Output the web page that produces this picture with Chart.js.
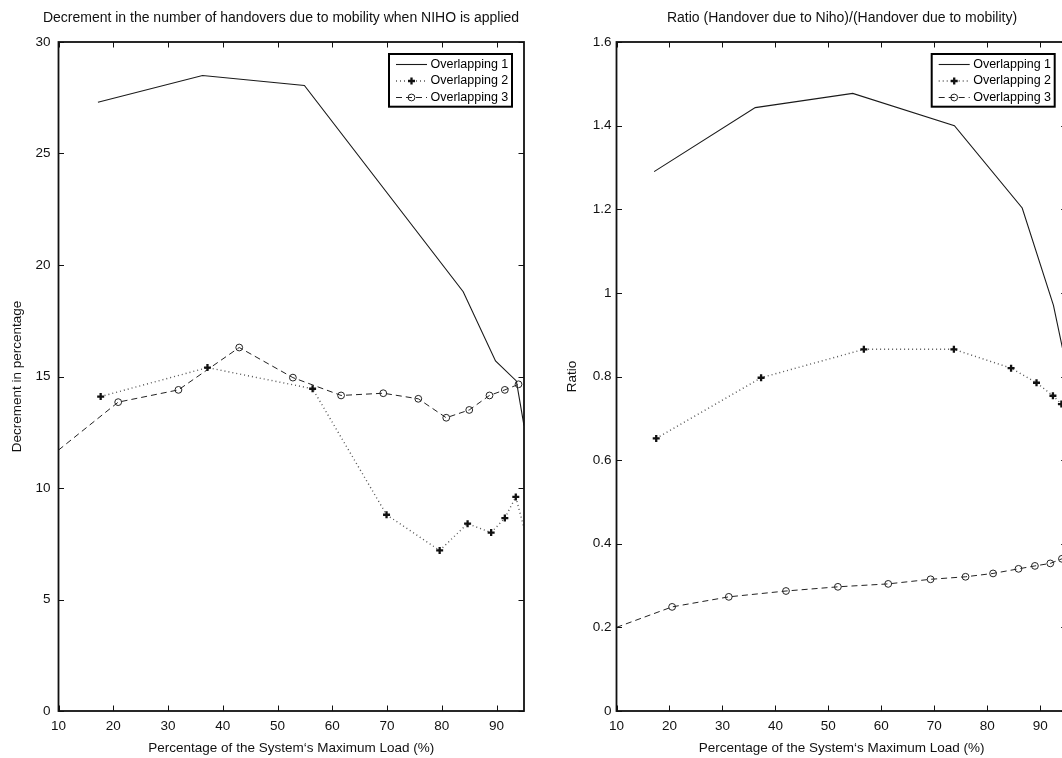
<!DOCTYPE html>
<html>
<head>
<meta charset="utf-8">
<title>Handover decrement and ratio vs load</title>
<script src="https://cdn.jsdelivr.net/npm/chart.js@4.4.0/dist/chart.umd.min.js"></script>
<style>
  html, body { margin: 0; padding: 0; background: #fff; overflow: hidden; width: 1062px; height: 758px; }
  canvas { position: absolute; top: 0; }
  #leftChart { left: 0; }
  #rightChart { left: 540px; }
</style>
</head>
<body>
<canvas id="leftChart" width="562" height="758"></canvas>
<canvas id="rightChart" width="604" height="758"></canvas>
<script>
// Series names (legend)
const seriesNames = ['Overlapping 1', 'Overlapping 2', 'Overlapping 3'];

// Left panel: decrement in handovers (%) vs load (%)
const leftLoad1 = [17.2, 36.3, 54.9, 83.9, 89.8, 93.6, 95];
const leftDec1  = [27.3, 28.5, 28.05, 18.8, 15.7, 14.8, 12.8];
const leftLoad2 = [17.7, 37.2, 56.4, 69.9, 79.6, 84.7, 89.0, 91.5, 93.5, 95];
const leftDec2  = [14.1, 15.4, 14.45, 8.8, 7.2, 8.4, 8.0, 8.65, 9.6, 8.2];
const leftLoad3 = [10, 20.9, 31.9, 43.0, 52.8, 61.6, 69.3, 75.7, 80.8, 85.0, 88.7, 91.5, 94.0];
const leftDec3  = [11.7, 13.85, 14.4, 16.3, 14.95, 14.15, 14.25, 14.0, 13.15, 13.5, 14.15, 14.4, 14.65];

// Right panel: ratio (handover due to NIHO / due to mobility) vs load (%)
const rightLoad1  = [17.1, 36.2, 54.6, 73.8, 86.6, 92.5, 95];
const rightRatio1 = [1.29, 1.443, 1.477, 1.40, 1.203, 0.97, 0.82];
const rightLoad2  = [17.5, 37.3, 56.7, 73.7, 84.5, 89.3, 92.4, 94.0];
const rightRatio2 = [0.652, 0.797, 0.865, 0.865, 0.82, 0.785, 0.754, 0.734];
const rightLoad3  = [10, 20.5, 31.2, 42.0, 51.8, 61.3, 69.3, 75.9, 81.1, 85.9, 89.0, 91.9, 94.1];
const rightRatio3 = [0.2, 0.249, 0.273, 0.287, 0.297, 0.304, 0.315, 0.321, 0.329, 0.340, 0.347, 0.353, 0.364];

// Tick labels
const loadTicks = [10, 20, 30, 40, 50, 60, 70, 80, 90];
const leftYTicks = [0, 5, 10, 15, 20, 25, 30];
const rightYTicks = [0, 0.2, 0.4, 0.6, 0.8, 1, 1.2, 1.4, 1.6];

const X_MIN = 10, X_MAX = 95;
const INK = '#111';

Chart.defaults.font.family = '"Liberation Sans", Arial, Helvetica, sans-serif';
Chart.defaults.color = INK;

// line / marker look for each series (matlab style)
const SERIES_STYLES = [
    { borderColor: '#1a1a1a', borderWidth: 1.1, markerRadius: 0 },
    { borderColor: '#555', borderWidth: 1.4, borderDash: [1, 3], pointStyle: 'cross',
      markerRadius: 3.5, pointBorderWidth: 2.3, pointBorderColor: '#111' },
    { borderColor: '#222', borderWidth: 1, borderDash: [6, 4], pointStyle: 'circle',
      markerRadius: 3.4, pointBorderWidth: 1, pointBorderColor: '#222',
      pointBackgroundColor: 'rgba(255,255,255,0)' }
];

function makeDatasets(xsList, ysList) {
    return xsList.map((xs, i) => {
        const st = SERIES_STYLES[i];
        return {
            label: seriesNames[i],
            data: xs.map((x, k) => ({ x: x, y: ysList[i][k] })),
            borderColor: st.borderColor,
            borderWidth: st.borderWidth,
            borderDash: st.borderDash || [],
            pointStyle: st.pointStyle || 'circle',
            pointBorderColor: st.pointBorderColor || st.borderColor,
            pointBackgroundColor: st.pointBackgroundColor || st.pointBorderColor || st.borderColor,
            pointBorderWidth: st.pointBorderWidth || 1,
            // no marker where the line leaves the axes box
            pointRadius: c => (c.raw.x <= X_MIN || c.raw.x >= X_MAX) ? 0 : st.markerRadius,
            markerRadius: st.markerRadius,
            tension: 0,
            fill: false
        };
    });
}

// box + inward tick marks on all four sides
const axesFrame = {
    id: 'axesFrame',
    afterDatasetsDraw(chart) {
        const { ctx, chartArea: a, scales } = chart;
        const tl = 5.5;
        ctx.save();
        ctx.strokeStyle = INK;
        ctx.lineWidth = 1;
        ctx.beginPath();
        scales.x.ticks.forEach(t => {
            const px = Math.round(scales.x.getPixelForValue(t.value)) + 0.5;
            ctx.moveTo(px, a.bottom); ctx.lineTo(px, a.bottom - tl);
            ctx.moveTo(px, a.top); ctx.lineTo(px, a.top + tl);
        });
        scales.y.ticks.forEach(t => {
            const py = Math.round(scales.y.getPixelForValue(t.value)) + 0.5;
            ctx.moveTo(a.left, py); ctx.lineTo(a.left + tl, py);
            ctx.moveTo(a.right, py); ctx.lineTo(a.right - tl, py);
        });
        ctx.stroke();
        ctx.lineWidth = 1.8;
        ctx.strokeRect(a.left, a.top, a.right - a.left, a.bottom - a.top);
        ctx.restore();
    }
};

// matlab-like legend box in the upper right corner
const boxLegend = {
    id: 'boxLegend',
    afterDraw(chart) {
        const { ctx, chartArea: a } = chart;
        const w = 123, h = 52.7, rowH = 16.5;
        const x0 = a.right - 12 - w, y0 = a.top + 12;
        ctx.save();
        ctx.fillStyle = '#fff';
        ctx.fillRect(x0, y0, w, h);
        ctx.lineWidth = 2;
        ctx.strokeStyle = '#000';
        ctx.strokeRect(x0, y0, w, h);
        chart.data.datasets.forEach((ds, i) => {
            const cy = y0 + 10.5 + i * rowH;
            ctx.beginPath();
            ctx.setLineDash(ds.borderDash);
            ctx.lineWidth = ds.borderWidth;
            ctx.strokeStyle = ds.borderColor;
            ctx.moveTo(x0 + 7, cy);
            ctx.lineTo(x0 + 38, cy);
            ctx.stroke();
            ctx.setLineDash([]);
            if (ds.markerRadius > 0) {
                ctx.strokeStyle = ds.pointBorderColor;
                ctx.fillStyle = ds.pointBackgroundColor;
                ctx.lineWidth = ds.pointBorderWidth;
                Chart.helpers.drawPoint(ctx, {
                    pointStyle: ds.pointStyle, radius: ds.markerRadius,
                    borderWidth: ds.pointBorderWidth, rotation: 0
                }, x0 + 22.5, cy);
            }
            ctx.fillStyle = '#000';
            ctx.font = '12.5px "Liberation Sans", Arial, sans-serif';
            ctx.textBaseline = 'middle';
            ctx.textAlign = 'left';
            ctx.fillText(ds.label, x0 + 41.5, cy);
        });
        ctx.restore();
    }
};

const fmt = v => String(+Number(v).toFixed(2));

function buildChart(canvasId, cfg) {
    return new Chart(document.getElementById(canvasId), {
        type: 'line',
        data: { datasets: cfg.datasets },
        options: {
            responsive: false,
            animation: false,
            events: [],
            layout: { padding: 0 },
            plugins: {
                legend: { display: false },
                tooltip: { enabled: false },
                title: {
                    display: true,
                    text: cfg.title,
                    color: INK,
                    font: { size: 14, weight: 'normal' },
                    padding: { top: 9.6, bottom: 15.6 }
                }
            },
            scales: {
                x: {
                    type: 'linear',
                    min: X_MIN,
                    max: X_MAX,
                    afterBuildTicks: s => { s.ticks = loadTicks.map(v => ({ value: v })); },
                    ticks: { font: { size: 13.5 }, color: INK, padding: 7, maxRotation: 0, autoSkip: false, callback: fmt },
                    grid: { display: false, drawTicks: false },
                    border: { display: false },
                    title: {
                        display: true,
                        text: 'Percentage of the System‘s Maximum Load (%)',
                        color: INK,
                        font: { size: 13.5 },
                        padding: { top: 0, bottom: 2 }
                    },
                    afterFit: s => { s.height = 47; }
                },
                y: {
                    type: 'linear',
                    min: cfg.yMin,
                    max: cfg.yMax,
                    afterBuildTicks: s => { s.ticks = cfg.yTicks.map(v => ({ value: v })); },
                    ticks: { font: { size: 13.5 }, color: INK, padding: cfg.yTickPad, callback: fmt },
                    grid: { display: false, drawTicks: false },
                    border: { display: false },
                    title: {
                        display: true,
                        text: cfg.yTitle,
                        color: INK,
                        font: { size: 13.5 },
                        padding: { top: cfg.yTitlePad, bottom: 0 }
                    },
                    afterFit: s => { s.width = cfg.leftGap; }
                },
                // empty axis that only reserves room on the right
                spacer: {
                    type: 'linear',
                    position: 'right',
                    display: true,
                    ticks: { display: false },
                    grid: { display: false, drawTicks: false },
                    border: { display: false },
                    afterFit: s => { s.width = cfg.rightGap; }
                }
            }
        },
        plugins: [axesFrame, boxLegend]
    });
}

buildChart('leftChart', {
    title: 'Decrement in the number of handovers due to mobility when NIHO is applied',
    yTitle: 'Decrement in percentage',
    datasets: makeDatasets([leftLoad1, leftLoad2, leftLoad3], [leftDec1, leftDec2, leftDec3]),
    yMin: 0, yMax: 30, yTicks: leftYTicks,
    yTickPad: 8, yTitlePad: 8.9,
    leftGap: 58.5, rightGap: 38
});

buildChart('rightChart', {
    title: 'Ratio (Handover due to Niho)/(Handover due to mobility)',
    yTitle: 'Ratio',
    datasets: makeDatasets([rightLoad1, rightLoad2, rightLoad3], [rightRatio1, rightRatio2, rightRatio3]),
    yMin: 0, yMax: 1.6, yTicks: rightYTicks,
    yTickPad: 5, yTitlePad: 23.9,
    leftGap: 76.5, rightGap: 77.3
});
</script>
</body>
</html>
